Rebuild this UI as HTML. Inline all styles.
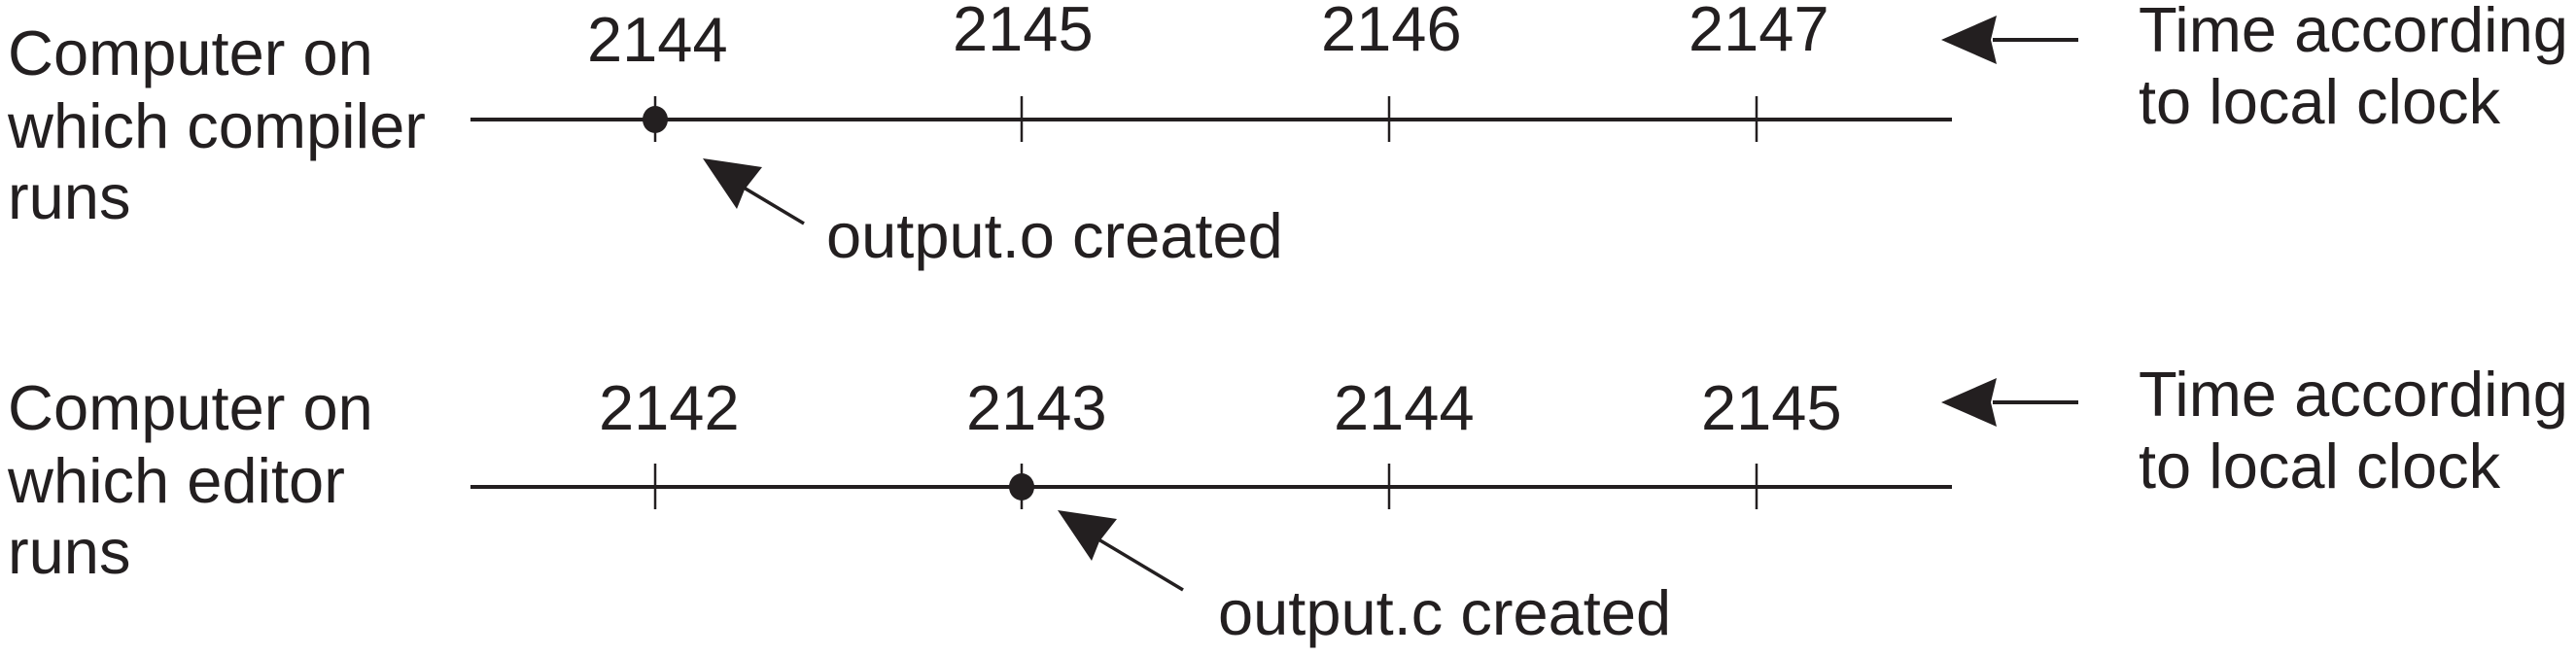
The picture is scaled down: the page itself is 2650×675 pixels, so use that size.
<!DOCTYPE html>
<html><head><style>html,body{margin:0;padding:0;background:#fff}svg{display:block}</style></head>
<body>
<svg width="2650" height="675" viewBox="0 0 2650 675" xmlns="http://www.w3.org/2000/svg" font-family="Liberation Sans, Arial, sans-serif" font-size="65" fill="#231f20">
<g stroke="#231f20" fill="none">
<line x1="484" y1="123" x2="2008" y2="123" stroke-width="4"/>
<line x1="674" y1="99" x2="674" y2="146" stroke-width="2.5"/>
<line x1="1051" y1="99" x2="1051" y2="146" stroke-width="2.5"/>
<line x1="1429" y1="99" x2="1429" y2="146" stroke-width="2.5"/>
<line x1="1807" y1="99" x2="1807" y2="146" stroke-width="2.5"/>
<line x1="484" y1="501" x2="2008" y2="501" stroke-width="4"/>
<line x1="674" y1="477" x2="674" y2="524" stroke-width="2.5"/>
<line x1="1051" y1="477" x2="1051" y2="524" stroke-width="2.5"/>
<line x1="1429" y1="477" x2="1429" y2="524" stroke-width="2.5"/>
<line x1="1807" y1="477" x2="1807" y2="524" stroke-width="2.5"/>
<line x1="2050" y1="41" x2="2138" y2="41" stroke-width="4"/>
<line x1="2050" y1="414" x2="2138" y2="414" stroke-width="4"/>
<line x1="760" y1="190" x2="827" y2="230" stroke-width="3.5"/>
<line x1="1125" y1="552" x2="1217" y2="607" stroke-width="3.5"/>
</g>
<ellipse cx="674" cy="123" rx="13" ry="14"/>
<ellipse cx="1051" cy="501" rx="13" ry="14"/>
<polygon points="1997,41 2054,16 2048,41 2054,66"/>
<polygon points="1997,414 2054,389 2048,414 2054,439"/>
<polygon points="723,163 784,172 766,195 758,215"/>
<polygon points="1088,525 1149,534 1131,557 1123,577"/>
<text x="604" y="63">2144</text>
<text x="980" y="52">2145</text>
<text x="1359" y="52">2146</text>
<text x="1737" y="52">2147</text>
<text x="616" y="442">2142</text>
<text x="994" y="442">2143</text>
<text x="1372" y="442">2144</text>
<text x="1750" y="442">2145</text>
<text x="8" y="77">Computer on</text>
<text x="8" y="152">which compiler</text>
<text x="8" y="225">runs</text>
<text x="8" y="442">Computer on</text>
<text x="8" y="517">which editor</text>
<text x="8" y="590">runs</text>
<text x="850" y="265">output.o created</text>
<text x="1253" y="653">output.c created</text>
<text x="2200" y="53">Time according</text>
<text x="2200" y="127">to local clock</text>
<text x="2200" y="428">Time according</text>
<text x="2200" y="502">to local clock</text>
</svg>
</body></html>
